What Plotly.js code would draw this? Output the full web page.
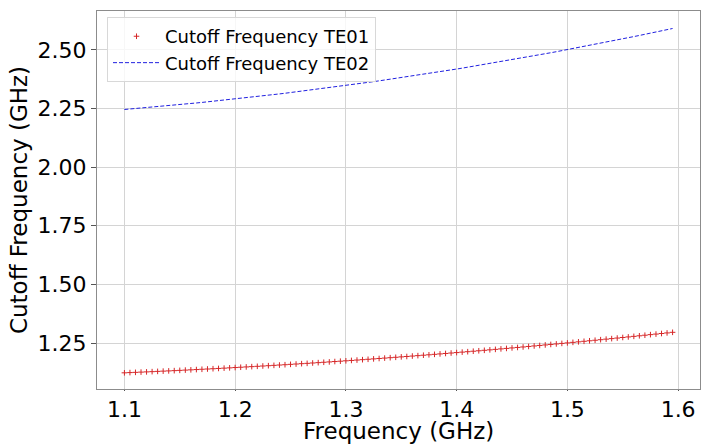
<!DOCTYPE html>
<html>
<head>
<meta charset="utf-8">
<script src="https://cdn.plot.ly/plotly-3.0.1.min.js"></script>
<style>html,body{margin:0;padding:0;background:#fff;}#chart{width:701px;height:444px;}</style>
</head>
<body>
<div id="chart"></div>
<script>
const frequency = [
1.100,1.105,1.110,1.115,1.120,1.125,1.130,1.135,1.140,1.145,
1.150,1.155,1.160,1.165,1.170,1.175,1.180,1.185,1.190,1.195,
1.200,1.205,1.210,1.215,1.220,1.225,1.230,1.235,1.240,1.245,
1.250,1.255,1.260,1.265,1.270,1.275,1.280,1.285,1.290,1.295,
1.300,1.305,1.310,1.315,1.320,1.325,1.330,1.335,1.340,1.345,
1.350,1.355,1.360,1.365,1.370,1.375,1.380,1.385,1.390,1.395,
1.400,1.405,1.410,1.415,1.420,1.425,1.430,1.435,1.440,1.445,
1.450,1.455,1.460,1.465,1.470,1.475,1.480,1.485,1.490,1.495,
1.500,1.505,1.510,1.515,1.520,1.525,1.530,1.535,1.540,1.545,
1.550,1.555,1.560,1.565,1.570,1.575,1.580,1.585,1.590,1.595];

const cutoffTE01 = [
1.1230,1.1240,1.1250,1.1260,1.1270,1.1280,1.1291,1.1302,1.1312,1.1323,
1.1335,1.1346,1.1357,1.1369,1.1381,1.1393,1.1405,1.1417,1.1429,1.1442,
1.1455,1.1468,1.1481,1.1494,1.1507,1.1521,1.1534,1.1548,1.1562,1.1576,
1.1591,1.1605,1.1620,1.1634,1.1649,1.1664,1.1680,1.1695,1.1711,1.1726,
1.1742,1.1758,1.1774,1.1791,1.1807,1.1824,1.1841,1.1858,1.1875,1.1892,
1.1910,1.1927,1.1945,1.1963,1.1981,1.1999,1.2018,1.2036,1.2055,1.2074,
1.2093,1.2112,1.2131,1.2151,1.2170,1.2190,1.2210,1.2230,1.2251,1.2271,
1.2292,1.2312,1.2333,1.2354,1.2376,1.2397,1.2419,1.2440,1.2462,1.2484,
1.2506,1.2529,1.2551,1.2574,1.2597,1.2619,1.2643,1.2666,1.2689,1.2713,
1.2737,1.2761,1.2785,1.2809,1.2833,1.2858,1.2882,1.2907,1.2932,1.2957];

const cutoffTE02 = [
2.2460,2.2479,2.2499,2.2519,2.2540,2.2560,2.2581,2.2603,2.2624,2.2646,
2.2669,2.2691,2.2714,2.2738,2.2761,2.2785,2.2809,2.2834,2.2858,2.2884,
2.2909,2.2935,2.2961,2.2987,2.3014,2.3041,2.3068,2.3096,2.3124,2.3152,
2.3181,2.3210,2.3239,2.3268,2.3298,2.3328,2.3359,2.3390,2.3421,2.3452,
2.3484,2.3516,2.3548,2.3581,2.3614,2.3647,2.3681,2.3715,2.3749,2.3784,
2.3819,2.3854,2.3889,2.3925,2.3961,2.3998,2.4035,2.4072,2.4109,2.4147,
2.4185,2.4223,2.4262,2.4301,2.4340,2.4380,2.4420,2.4460,2.4501,2.4542,
2.4583,2.4624,2.4666,2.4708,2.4751,2.4793,2.4837,2.4880,2.4924,2.4968,
2.5012,2.5057,2.5102,2.5147,2.5193,2.5238,2.5285,2.5331,2.5378,2.5425,
2.5473,2.5521,2.5569,2.5617,2.5666,2.5715,2.5764,2.5814,2.5864,2.5914];

const seriesNames = ['Cutoff Frequency TE01', 'Cutoff Frequency TE02'];
const xTitle = 'Frequency (GHz)';
const yTitle = 'Cutoff Frequency (GHz)';

const FONT = 'DejaVu Sans, sans-serif';

const traces = [
  {
    x: frequency, y: cutoffTE01, name: seriesNames[0],
    type: 'scatter', mode: 'markers',
    marker: {symbol: 'cross-thin', size: 4, color: '#d62728', line: {width: 1, color: '#d62728'}}
  },
  {
    x: frequency, y: cutoffTE02, name: seriesNames[1],
    type: 'scatter', mode: 'lines',
    line: {color: '#2020e0', width: 1, dash: '4px,2px'}
  }
];

const axisCommon = {
  showline: true, mirror: true, linecolor: '#8c8c8c', linewidth: 1,
  showgrid: true, gridcolor: '#d4d4d4', gridwidth: 1,
  zeroline: false,
  ticks: 'outside', ticklen: 5, tickcolor: '#555', tickwidth: 1,
  tickfont: {family: FONT, size: 22, color: '#000'},
  automargin: false
};

const layout = {
  width: 701, height: 444,
  margin: {l: 97, r: 1, t: 11, b: 55, pad: 0},
  paper_bgcolor: '#fff', plot_bgcolor: '#fff',
  showlegend: true,
  xaxis: Object.assign({}, axisCommon, {
    range: [1.07525, 1.61975], dtick: 0.1, tick0: 1.1, tickformat: '.1f', ticklen: 1
  }),
  yaxis: Object.assign({}, axisCommon, {
    range: [1.054, 2.666], dtick: 0.25, tick0: 1.25, tickformat: '.2f',
    title: {text: yTitle, font: {family: FONT, size: 23, color: '#000'}, standoff: 3}
  }),
  annotations: [{
    text: xTitle, xref: 'paper', yref: 'paper', x: 0.5, y: 0,
    xanchor: 'center', yanchor: 'bottom', yshift: -56, borderpad: 0, showarrow: false,
    font: {family: FONT, size: 23, color: '#000'}
  }],
  legend: {
    x: 0.0166, y: 0.984, xanchor: 'left', yanchor: 'top',
    bgcolor: 'rgba(255,255,255,0.8)', bordercolor: '#d8d8d8', borderwidth: 1,
    font: {family: FONT, size: 18, color: '#000'},
    itemwidth: 47, tracegroupgap: 0
  },
  font: {family: FONT}
};

Plotly.newPlot('chart', traces, layout, {displayModeBar: false, staticPlot: true});
</script>
</body>
</html>
